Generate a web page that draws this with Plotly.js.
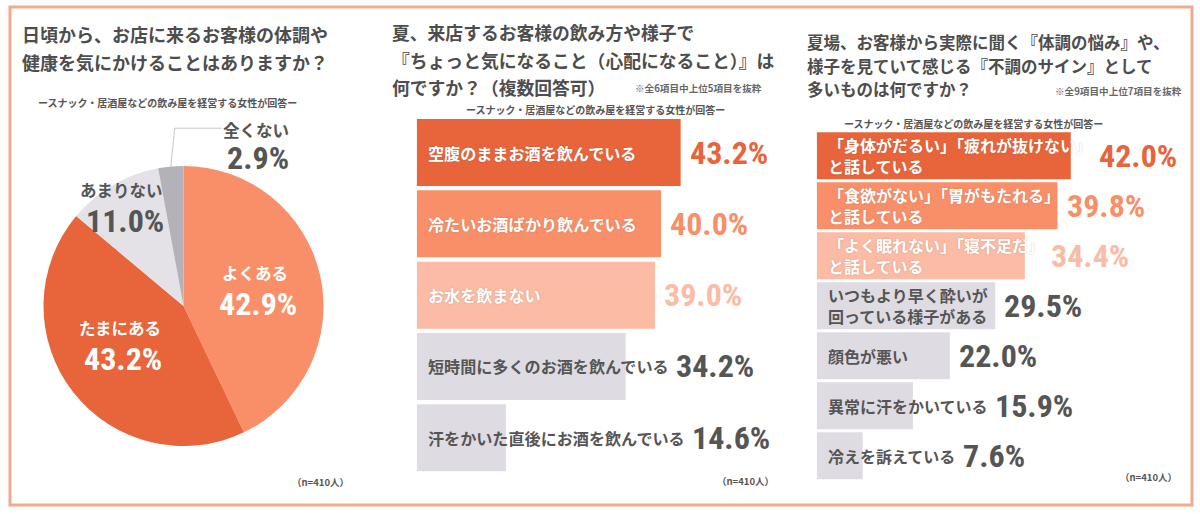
<!DOCTYPE html>
<html><head><meta charset="utf-8">
<script src="https://cdn.plot.ly/plotly-3.0.1.min.js"></script>
<style>html,body{margin:0;padding:0;background:#fff;}#chart{width:1200px;height:514px;}</style>
</head><body><div id="chart"></div>
<script>
// ---------------- data ----------------
const q1Title = ['日頃から、お店に来るお客様の体調や', '健康を気にかけることはありますか？'];
const q1Labels = ['よくある', 'たまにある', 'あまりない', '全くない'];
const q1Values = [42.9, 43.2, 11.0, 2.9];

const q2Title = ['夏、来店するお客様の飲み方や様子で', '『ちょっと気になること（心配になること）』は', '何ですか？（複数回答可）'];
const q2Note = '※全6項目中上位5項目を抜粋';
const q2Items = ['空腹のままお酒を飲んでいる', '冷たいお酒ばかり飲んでいる', 'お水を飲まない', '短時間に多くのお酒を飲んでいる', '汗をかいた直後にお酒を飲んでいる'];
const q2Values = [43.2, 40.0, 39.0, 34.2, 14.6];

const q3Title = ['夏場、お客様から実際に聞く『体調の悩み』や、', '様子を見ていて感じる『不調のサイン』として', '多いものは何ですか？'];
const q3Note = '※全9項目中上位7項目を抜粋';
const q3Items = ['「身体がだるい」「疲れが抜けない」<br>と話している', '「食欲がない」「胃がもたれる」<br>と話している', '「よく眠れない」「寝不足だ」<br>と話している', 'いつもより早く酔いが<br>回っている様子がある', '顔色が悪い', '異常に汗をかいている', '冷えを訴えている'];
const q3Values = [42.0, 39.8, 34.4, 29.5, 22.0, 15.9, 7.6];

const subtitle = 'ースナック・居酒屋などの飲み屋を経営する女性が回答ー';
const sampleNote = '（n=410人）';

// ---------------- style ----------------
const W = 1200, H = 514;
const JP = '"Noto Sans CJK JP", "Noto Sans", sans-serif';
const NUM = '"Roboto Condensed", "DejaVu Sans Condensed", sans-serif';
const DARK = '#4d4d4d';
const TXT = '#555555';
const pieColors = ['#f98f68', '#e8643a', '#e4e2e7', '#b4b2b8'];
const barColors = ['#e8643a', '#f98f68', '#fbbba4', '#dedce2', '#dedce2', '#dedce2', '#dedce2'];
const valColors = ['#e8643a', '#f98f68', '#fbbba4', TXT, TXT, TXT, TXT];
const lblColors = ['#ffffff', '#ffffff', '#ffffff', TXT, TXT, TXT, TXT];

const px = x => x / W;
const py = y => 1 - y / H;

const ctx = document.createElement('canvas').getContext('2d');
function textW(str, size, weight, family) { ctx.font = weight + ' ' + size + 'px ' + family; return ctx.measureText(str).width; }

const annotations = [];
const shapes = [];
function addText(text, x, y, size, color, opts) {
  opts = opts || {};
  annotations.push(Object.assign({
    text: text, x: x, y: y, xref: 'paper', yref: 'paper', showarrow: false,
    xanchor: 'left', yanchor: 'middle',
    font: { family: JP, size: size, color: color, weight: 700 }
  }, opts));
}

// titles
q1Title.forEach((t, i) => addText(t, px(20), py(34.5 + i * 27), 18, DARK));
q2Title.forEach((t, i) => addText(t, px(390), py(32 + i * 27.5), 17.8, DARK));
q3Title.forEach((t, i) => addText(t, px(805), py(42 + i * 23.5), 16.5, DARK));
addText(q2Note, px(633), py(88), 9.6, '#666666');
addText(q3Note, px(1053), py(91), 9.6, '#666666');
[[167.5, 103], [595, 109], [973.5, 123]].forEach(p => addText(subtitle, px(p[0]), py(p[1]), 10, TXT, { xanchor: 'center' }));
[[290, 482], [715, 481], [1118, 477]].forEach(p => addText(sampleNote, px(p[0]), py(p[1]), 9.5, TXT));

// ---------------- pie ----------------
const PIE = { cx: 183.5, cy: 306, r: 140 };
const pieTrace = {
  type: 'pie', labels: q1Labels, values: q1Values, sort: false, direction: 'clockwise', rotation: 0,
  marker: { colors: pieColors, line: { width: 0 } }, textinfo: 'none', hoverinfo: 'skip', showlegend: false,
  domain: { x: [px(PIE.cx - PIE.r), px(PIE.cx + PIE.r)], y: [py(PIE.cy + PIE.r), py(PIE.cy - PIE.r)] }
};
const pieLabelStyle = [
  { rf: 0.54, dx: -2, dy: 0, color: '#ffffff' },
  { rf: 0.53, dx: -5, dy: -7, color: '#ffffff' },
  { rf: 0.85, dx: -2, dy: 3, color: TXT },
  { outside: true, color: TXT }
];
const total = q1Values.reduce((a, b) => a + b, 0);
let cum = 0;
q1Values.forEach((v, i) => {
  const mid = (cum + v / 2) / total * 2 * Math.PI;
  cum += v;
  const st = pieLabelStyle[i];
  const pct = v.toFixed(1) + '%';
  const numFont = { family: NUM, size: 32, color: st.color, weight: 700 };
  if (!st.outside) {
    const x = PIE.cx + st.rf * PIE.r * Math.sin(mid) + st.dx;
    const y = PIE.cy - st.rf * PIE.r * Math.cos(mid) + st.dy;
    addText(q1Labels[i], px(x), py(y - 16), 16.5, st.color, { xanchor: 'center' });
    addText(pct, px(x + 3), py(y + 15), 32, st.color, { xanchor: 'center', font: numFont });
  } else {
    const ex = PIE.cx + PIE.r * Math.sin(mid), ey = PIE.cy - PIE.r * Math.cos(mid);
    const kx = ex + 4, ky = PIE.cy - 1.27 * PIE.r;
    const lx = kx + 47;
    shapes.push({ type: 'path', xref: 'paper', yref: 'paper',
      path: 'M' + px(ex) + ',' + py(ey) + ' L' + px(kx) + ',' + py(ky) + ' L' + px(lx) + ',' + py(ky),
      line: { color: '#c9c9c9', width: 1 } });
    addText(q1Labels[i], px(lx + 34), py(ky + 2), 16.5, st.color, { xanchor: 'center' });
    addText(pct, px(lx + 36), py(ky + 30), 32, st.color, { xanchor: 'center', font: numFont });
  }
});

// ---------------- bars ----------------
const B2 = { x0: 416.7, ppu: 6.11, top: 116.9, pitch: 71.3 };
const B3 = { x0: 816.7, ppu: 6.05, top: 130.8, pitch: 50 };
const XMAX = 50;

function barAnnots(items, values, B, xref, yref, lblSize, numSize) {
  items.forEach((item, i) => {
    const lines = item.split('<br>');
    let tw = 0;
    lines.forEach(ln => { tw = Math.max(tw, textW(ln, lblSize, 'bold', JP)); });
    annotations.push({ text: item, x: 0, y: item, xref: xref, yref: yref, showarrow: false,
      xanchor: 'left', yanchor: 'middle', align: 'left', xshift: 9,
      font: { family: JP, size: lblSize, color: lblColors[i], weight: 700,
        shadow: i < 3 ? '0px 0px 1.5px rgba(90,90,90,0.35)' : 'none' } });
    const barEnd = values[i] * B.ppu;
    const txtEnd = 9 + tw;
    const vx = (Math.max(barEnd, txtEnd) + 7) / B.ppu;
    annotations.push({ text: values[i].toFixed(1) + '%', x: vx, y: item, xref: xref, yref: yref, showarrow: false,
      xanchor: 'left', yanchor: 'middle', font: { family: NUM, size: numSize, color: valColors[i], weight: 700 } });
  });
}
barAnnots(q2Items, q2Values, B2, 'x', 'y', 16.1, 32);
barAnnots(q3Items, q3Values, B3, 'x2', 'y2', 16, 32);

const bar2 = { type: 'bar', orientation: 'h', y: q2Items, x: q2Values, xaxis: 'x', yaxis: 'y',
  marker: { color: barColors.slice(0, q2Items.length) }, hoverinfo: 'skip', showlegend: false };
const bar3 = { type: 'bar', orientation: 'h', y: q3Items, x: q3Values, xaxis: 'x2', yaxis: 'y2',
  marker: { color: barColors.slice(0, q3Items.length) }, hoverinfo: 'skip', showlegend: false };

const hidden = { visible: false, showgrid: false, zeroline: false, fixedrange: true };

shapes.push({ type: 'rect', xref: 'paper', yref: 'paper', x0: px(10), x1: px(1192), y0: py(505), y1: py(7),
  line: { color: '#f1aa8c', width: 3 } });

const layout = {
  width: W, height: H, margin: { l: 0, r: 0, t: 0, b: 0 },
  paper_bgcolor: '#ffffff', plot_bgcolor: 'rgba(0,0,0,0)',
  bargap: 0.06,
  xaxis: Object.assign({}, hidden, { domain: [px(B2.x0), px(B2.x0 + XMAX * B2.ppu)], range: [0, XMAX], anchor: 'y' }),
  yaxis: Object.assign({}, hidden, { type: 'category', autorange: 'reversed', anchor: 'x',
    domain: [py(B2.top + q2Items.length * B2.pitch), py(B2.top)] }),
  xaxis2: Object.assign({}, hidden, { domain: [px(B3.x0), px(B3.x0 + XMAX * B3.ppu)], range: [0, XMAX], anchor: 'y2' }),
  yaxis2: Object.assign({}, hidden, { type: 'category', autorange: 'reversed', anchor: 'x2',
    domain: [py(B3.top + q3Items.length * B3.pitch), py(B3.top)] }),
  annotations: annotations, shapes: shapes
};

Plotly.newPlot('chart', [pieTrace, bar2, bar3], layout, { displayModeBar: false, staticPlot: true });
</script></body></html>
